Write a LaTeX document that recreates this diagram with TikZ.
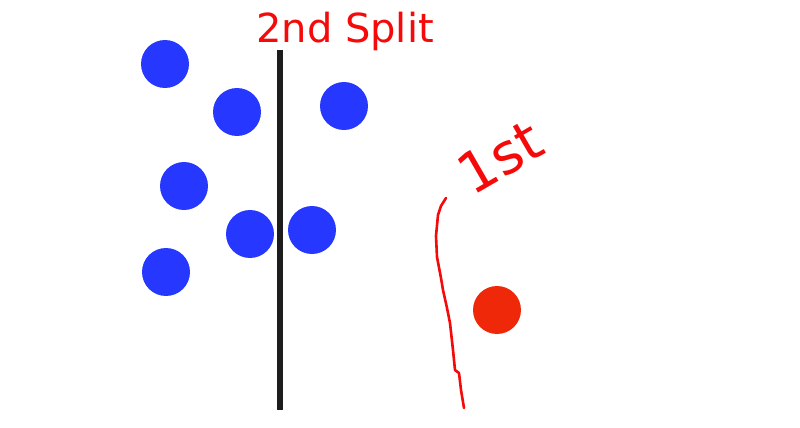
\documentclass[tikz,border=0pt]{standalone}
\usepackage{fontspec}
\setmainfont{DejaVu Sans}
\definecolor{dotblue}{RGB}{38,56,255}
\definecolor{dotred}{RGB}{240,40,10}
\definecolor{inkred}{RGB}{245,10,10}
\definecolor{splitblack}{RGB}{28,28,28}

\begin{document}
\begin{tikzpicture}[x=0.5pt, y=-0.5pt,
        dot/.style={circle, minimum size=24pt, inner sep=0pt},
        bluedot/.style={dot, fill=dotblue},
        reddot/.style={dot, fill=dotred},
        scrawl/.style={text=inkred, inner sep=0pt}]
        \useasboundingbox (0,0) rectangle (800,428);

        \node[bluedot] (b1) at (165,64) {};
        \node[bluedot] (b2) at (237,112) {};
        \node[bluedot] (b3) at (344,106) {};
        \node[bluedot] (b4) at (184,186) {};
        \node[bluedot] (b5) at (250,234) {};
        \node[bluedot] (b6) at (312,230) {};
        \node[bluedot] (b7) at (166,272) {};
        \node[reddot] (r1) at (497,310) {};

        \coordinate (splittop) at (280,50);
        \coordinate (splitbot) at (280,410);
        \draw[splitblack, line width=3.4pt] (splittop) -- (splitbot);

        \node[scrawl, font=\fontsize{20}{20}\selectfont] (second) at (345,31) {2nd Split};
        \node[scrawl, font=\fontsize{28}{28}\selectfont, rotate=30] (first) at (500,157) {1st};

        \draw[inkred, line width=1.3pt, line cap=round, line join=round]
            (446,198) -- (441,206) -- (438,215) -- (436,236) -- (437,257)
            -- (441,278) -- (443,290) -- (447,308) -- (450,323) -- (453,350)
            -- (455,370) -- (459,373) -- (461,390) -- (464,408);
\end{tikzpicture}
\end{document}
